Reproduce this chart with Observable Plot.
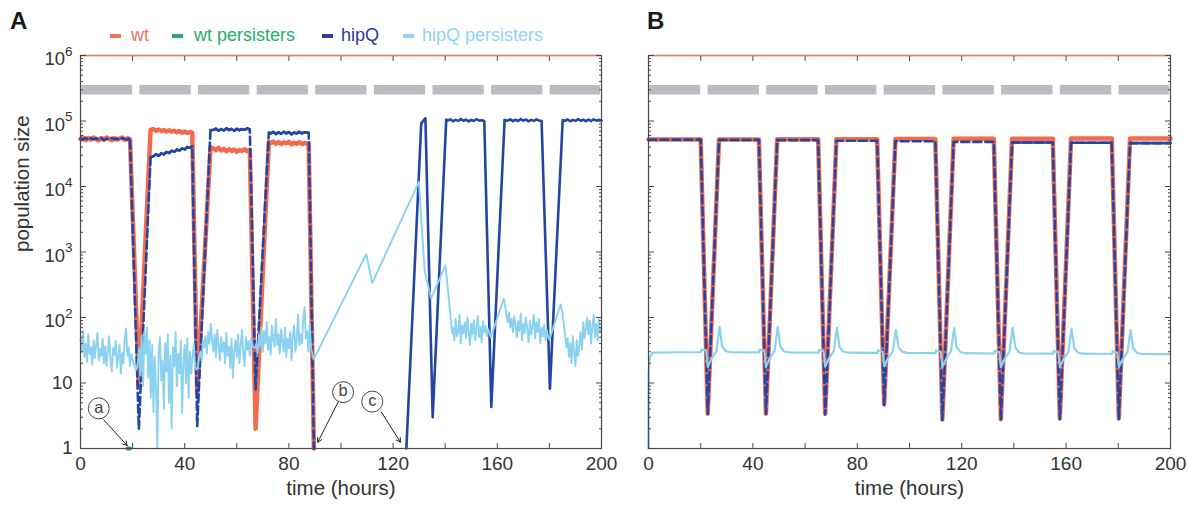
<!DOCTYPE html>
<html><head><meta charset="utf-8">
<script src="https://cdn.jsdelivr.net/npm/d3@7"></script>
<script src="https://cdn.jsdelivr.net/npm/@observablehq/plot@0.6"></script>
<style>
body{margin:0;background:#fff;font-family:"Liberation Sans",Arial,Helvetica,sans-serif;}
#wrap{position:relative;width:1190px;height:507px;overflow:hidden;background:#fff;}
.panel{position:absolute;top:0;}
.tag{position:absolute;font-weight:bold;font-size:24px;line-height:1;color:#1a1a1a;}
.legtxt{position:absolute;top:26px;font-size:18px;line-height:1;white-space:nowrap;}
.legsw{position:absolute;top:34px;width:11px;height:3.5px;}
</style></head><body><div id="wrap"></div>
<script>
// ---------- data ----------
// Panel A: wt and hipQ share one time grid up to extinction at ~90 h
const tA = [0,1,2,3,4,5,6,7,8,9,10,11,12,13,14,15,16,17,18,19,22.4,26.9,28,29,30,31,32,33,34,35,36,37,38,39,40,41,42,42.9,44.8,49.9,51,52,53,54,55,56,57,58,59,60,61,62,63,64,65,67.2,72.3,73,74,75,76,77,78,79,80,81,82,83,84,85,86,87,87.6,89.6];
const wtA = [53000,56000,51000,55000,52000,56000,53000,50500,55000,52000,56000,53500,51000,55000,52000,54000,56000,51500,54500,53000,
 9,73000,
 75000,71000,74000,70000,73000,69000,72000,68500,71000,67500,70000,66500,69000,65500,68000,
 66000,
 7,40000,
 38000,36000,39000,35500,37500,34500,37000,35000,36500,34000,36000,35000,37000,34500,36000,
 2,48000,
 46000,48500,45000,47500,44500,47000,45500,48000,44000,46500,45000,47500,44500,46000,45000,
 45000,1];
const hipA = [54000,52000,55500,51500,55000,52500,54500,52000,55000,51000,54000,52000,55500,52500,54000,51500,55000,53000,52000,55000,
 2,28000,
 29000,31000,29500,32000,31000,33500,32500,35000,34000,36500,35500,38000,37000,40000,39000,
 41000,
 2.2,73000,
 73000,76000,71500,75000,72000,77000,73000,75500,71000,76000,72500,75000,73500,77000,74000,
 8,66000,
 65000,68000,63500,67000,64000,68500,65000,67500,63000,66500,64500,68000,65000,67000,66000,
 66000,1];
// Panel A: hipQ regrowth after ~125 h
const tA2 = [125.1,130.8,132.4,135.2,140.4,141,142,143,144,145,146,147,148,149,150,151,152,153,154,155,157.7,162.8,164,165,166,167,168,169,170,171,172,173,174,175,176,177,180.2,185.1,186,187,188,189,190,191,192,193,194,195,196,197,198,199,200];
const hipA2 = [1,92000,110000,3,105000,
 102000,106000,99000,104000,100500,107000,101000,105000,98500,104000,100000,106500,101500,103000,100000,
 4.3,104000,
 101000,106000,99500,104500,100000,107000,101500,105000,99000,104000,100500,106000,102000,100000,
 8.2,103000,
 101000,105500,99000,104000,100500,107000,101000,104500,99500,105000,100000,106000,101500,104000,102000];
// Panel A: wt persisters (single brief appearance at the axis)
const tWtPersA = [18.0,19.0];
const wtPersA = [1,1];
// Panel A: hipQ persisters
const tPersA = [0,0.5,1,1.5,2,2.5,3,3.5,4,4.5,5,5.5,6,6.5,7,7.5,8,8.5,9,9.5,
 10,10.5,11,11.5,12,12.5,13,13.5,14,14.5,15,15.5,16,16.5,17,17.5,18,18.5,19,19.5,
 20,20.5,21,21.5,22,22.5,23,23.5,24,24.5,25,25.5,26,26.5,27,27.5,28,28.5,29,29.5,
 30,30.5,31,31.5,32,32.5,33,33.5,34,34.5,35,35.5,36,36.5,37,37.5,38,38.5,39,39.5,
 40,40.5,41,41.5,42,42.5,43,43.5,44,44.5,45,45.5,46,46.5,47,47.5,48,48.5,49,49.5,
 50,50.5,51,51.5,52,52.5,53,53.5,54,54.5,55,55.5,56,56.5,57,57.5,58,58.5,59,59.5,
 60,60.5,61,61.5,62,62.5,63,63.5,64,64.5,65,65.5,66,66.5,67,67.5,68,68.5,69,69.5,
 70,70.5,71,71.5,72,72.5,73,73.5,74,74.5,75,75.5,76,76.5,77,77.5,78,78.5,79,79.5,
 80,80.5,81,81.5,82,82.5,83,83.5,84,84.5,85,85.5,86,86.5,87,87.5,88,88.5,89,89.5,
 109.7,112,129.9,132.1,134.6,140.1,142.7,
 143,143.5,144,144.5,145,145.5,146,146.5,147,147.5,148,148.5,149,149.5,150,150.5,151,151.5,152,152.5,153,153.5,154,154.5,155,155.5,156,156.5,157,
 157.5,162.5,
 163,163.5,164,164.5,165,165.5,166,166.5,167,167.5,168,168.5,169,169.5,170,170.5,171,171.5,172,172.5,173,173.5,174,174.5,175,175.5,176,176.5,177,177.5,178,178.5,179,179.5,180,
 184.3,
 185,185.5,186,186.5,187,187.5,188,188.5,189,189.5,190,190.5,191,191.5,192,192.5,193,193.5,194,194.5,195,195.5,196,196.5,197,197.5,198,198.5,199,199.5,200];
const persA = [48,30,62,25,40,21,55,28,35,19,
 45,24,38,58,22,33,26,47,20,36,
 18,30,52,23,15,34,27,44,17,25,
 38,14,29,20,48,68,26,35,18,28,
 22,19,17,16,21,34,13,52,9,60,
 28,70,12,45,6,38,3.6,25,8,1,
 30,50,11,22,4,40,15,55,5,26,
 2,35,18,60,9,28,14,45,3.5,20,
 38,10,48,6,30,14,25,40,18,16,
 17,24,30,22,45,35,52,28,60,40,
 80,45,30,55,25,65,38,22,50,30,
 42,20,58,26,36,17,48,12,30,45,
 25,55,20,38,65,28,18,50,32,44,
 26,48,38,35,34,40,28,55,36,70,
 30,62,40,85,32,50,27,75,44,36,
 95,38,55,28,66,42,30,70,25,48,
 34,60,22,52,75,30,45,110,38,55,
 40,90,145,48,62,30,80,35,28,23,
 930,336,11800,527,194,630,57,
 70,45,95,52,60,110,40,75,58,85,48,100,62,38,80,55,90,45,68,105,50,72,42,88,60,75,52,66,58,
 50,194,
 150,110,85,120,70,95,60,105,75,50,88,62,115,45,80,58,100,66,42,90,55,72,110,48,85,60,95,40,70,52,78,45,65,50,46,
 158,
 120,80,55,35,48,25,40,20,52,30,18,45,26,38,60,32,85,48,70,100,55,90,40,75,110,50,80,45,95,60,70];
// Panel B: wt and hipQ
const tB = [0,20.0,22.7,27.0,42.3,45.0,49.3,65.0,67.7,72.0,87.6,90.3,94.6,109.9,112.6,116.9,132.3,135.0,139.3,154.9,157.6,161.9,177.5,180.2,184.5,200];
const wtB = [52000,52000,3.4,52000,52000,3.4,52500,52500,3.4,52500,52500,4.8,53000,53000,2.8,53500,53500,2.8,53500,53500,2.9,54000,54000,2.9,54000,54000];
const hipB = [52000,52000,3.4,51500,51500,3.4,51000,51000,3.3,50000,50000,4.6,49000,49000,2.7,48000,48000,2.7,47000,47000,2.8,46500,46500,2.8,46000,46000];
// Panel B: hipQ persisters
const tPersB = [0,0.1,0.5,1.5,10,20.1,20.3,22.1,22.7,24.2,26.0,27.2,28.2,29.7,31.7,
 42.4,42.6,44.4,45.0,46.5,48.3,49.5,50.5,52.0,54.0,
 65.1,65.3,67.1,67.7,69.2,71.0,72.2,73.2,74.7,76.7,
 87.7,87.9,89.7,90.3,91.8,93.6,94.8,95.8,97.3,99.3,
 110.0,110.2,112.0,112.6,114.1,115.9,117.1,118.1,119.6,121.6,
 132.4,132.6,134.4,135.0,136.5,138.3,139.5,140.5,142.0,144.0,
 155.0,155.2,157.0,157.6,159.1,160.9,162.1,163.1,164.6,166.6,
 177.6,177.8,179.6,180.2,181.7,183.5,184.7,185.7,187.2,189.2,
 200];
const persB = [1,14,25,29,29.5,29.5,32.5,31,17.5,24,31,72,36,30.5,29.5,
 29.3,32.3,30.8,17.5,24,31,72,36,30.3,29.3,
 29,32,30.5,17.8,24,31,70,35.5,30,29,
 28.8,31.7,30.2,18,24,30.5,64,35,29.8,28.8,
 28.5,31.4,30,17.5,23.5,30.5,69,35,29.5,28.5,
 28.2,31,29.6,17.5,23.5,30,70,35,29.2,28.2,
 28,30.8,29.4,17.5,23.5,30,67,34.5,29,28,
 27.7,30.5,29.1,17.5,23,29.5,65,34,28.7,27.7,
 27.5];
// Grey bars (growth periods) at the top of both panels
const barStart = [0.5,22.8,45.3,67.8,90.3,112.8,135.3,157.8,180.3];
const barEnd = [20.0,42.5,65.0,87.5,110.0,132.5,155.0,177.5,199.6];
const barLevel = 3e5;
// Annotations in panel A
const annLabel = ["a","b","c"];
const annT = [7.0,100.8,112.0];
const annV = [4.1,7.25,5.2];
const arrowFromT = [8.9,98.9,115.5];
const arrowFromV = [2.75,5.1,3.6];
const arrowToT = [17.9,91.1,122.8];
const arrowToV = [1.11,1.25,1.25];
// Axes
const xTickValues = [0,40,80,120,160,200];
const xMinorValues = [0,20,40,60,80,100,120,140,160,180,200];
const yTickValues = [1,10,100,1000,10000,100000,1000000];
const yTickLabels = ["1","10","10^2","10^3","10^4","10^5","10^6"];
const yMinorValues = [2,3,4,5,6,7,8,9,20,30,40,50,60,70,80,90,200,300,400,500,600,700,800,900,2000,3000,4000,5000,6000,7000,8000,9000,20000,30000,40000,50000,60000,70000,80000,90000,200000,300000,400000,500000,600000,700000,800000,900000];
// Legend
const legendNames = ["wt","wt persisters","hipQ","hipQ persisters"];
const legendColors = ["#f0735a","#27ad6a","#2b3c9c","#8fd4f2"];

// ---------- styles ----------
const RED="#f36a4d", BLUE="#2346a5", LIGHT="#8ad2f0", GREEN="#1fa463", GRAY="#b9bcc0", FRAME="#4f4646", TOPLINE="#e08672", TXT="#333";
const FONT='"Liberation Sans", Arial, Helvetica, sans-serif';

function rows(t, v){ return t.map((d,i)=>({t:d, v:v[i]})); }
function solidLinks(t, blue, red, thr){
  const out=[];
  for(let i=0;i<t.length-1;i++){
    const steep=Math.abs(Math.log10(blue[i+1])-Math.log10(blue[i]))>0.5;
    const d0=Math.abs(Math.log10(blue[i])-Math.log10(red[i]));
    const d1=Math.abs(Math.log10(blue[i+1])-Math.log10(red[i+1]));
    if(!steep && d0>thr && d1>thr) out.push({t1:t[i],v1:blue[i],t2:t[i+1],v2:blue[i+1]});
  }
  return out;
}
const labelMap = new Map(yTickValues.map((d,i)=>[d, yTickLabels[i]]));
const bars = barStart.map((s,i)=>({s, e:barEnd[i], y:barLevel}));

function axes(showY){
  const m = [
    Plot.frame({stroke: FRAME, strokeWidth: 1.2}),
    Plot.ruleY([1e6], {stroke: TOPLINE, strokeWidth: 1.5}),
    Plot.axisX({anchor:"bottom", ticks: xMinorValues, tickSize:-5, tickFormat:()=>"", label:null, stroke:FRAME}),
    Plot.axisX({anchor:"top", ticks: xMinorValues, tickSize:-5, tickFormat:()=>"", label:null, stroke:FRAME}),
    Plot.axisY({anchor:"left", ticks: yTickValues, tickSize:-6, tickFormat:()=>"", label:null, stroke:FRAME}),
    Plot.axisY({anchor:"right", ticks: yTickValues, tickSize:-6, tickFormat:()=>"", label:null, stroke:FRAME}),
    Plot.axisY({anchor:"left", ticks: yMinorValues, tickSize:-3, tickFormat:()=>"", label:null, stroke:FRAME}),
    Plot.axisY({anchor:"right", ticks: yMinorValues, tickSize:-3, tickFormat:()=>"", label:null, stroke:FRAME}),
    Plot.axisX({anchor:"bottom", ticks: xTickValues, tickSize:0, tickPadding:8, fontSize:19, label:null, fill:TXT}),
    Plot.text(["time (hours)"], {text:d=>d, frameAnchor:"bottom", dy:46, fontSize:20.5, fill:TXT})
  ];
  if(showY){
    m.push(Plot.axisY({anchor:"left", ticks: yTickValues, tickSize:0, tickPadding:8, tickFormat:d=>labelMap.get(d), fontSize:18.5, label:null, fill:TXT}));
    m.push(Plot.text(["population size"], {text:d=>d, frameAnchor:"left", rotate:-90, dx:-58, fontSize:20.5, fill:TXT}));
  }
  return m;
}

function makePanel(width, marginLeft, marginRight, marks){
  return Plot.plot({
    width, height: 507, marginLeft, marginRight, marginTop: 55, marginBottom: 59,
    x: {domain: [0,200], label: null},
    y: {type: "log", domain: [1,1e6], label: null},
    style: {fontFamily: FONT, background: "transparent", overflow: "visible", color: TXT},
    marks
  });
}

const barMark = Plot.ruleY(bars, {y:"y", x1:"s", x2:"e", stroke: GRAY, strokeWidth: 9.5});

// Panel A
const annRows = annLabel.map((l,i)=>({l, t:annT[i], v:annV[i], t1:arrowFromT[i], v1:arrowFromV[i], t2:arrowToT[i], v2:arrowToV[i]}));
const svgA = makePanel(620, 80, 19, [
  barMark,
  Plot.line(rows(tA, wtA), {x:"t", y:"v", stroke: RED, strokeWidth: 4.5, strokeLinejoin:"round"}),
  Plot.line(rows(tA, hipA), {x:"t", y:"v", stroke: BLUE, strokeWidth: 2.6, strokeDasharray:"8,4"}),
  Plot.link(solidLinks(tA, hipA, wtA, 0.1), {x1:"t1", y1:"v1", x2:"t2", y2:"v2", stroke: BLUE, strokeWidth: 2.6, strokeLinecap:"round"}),
  Plot.line(rows(tA2, hipA2), {x:"t", y:"v", stroke: BLUE, strokeWidth: 2.6, strokeLinejoin:"round"}),
  Plot.line(rows(tPersA, persA), {x:"t", y:"v", stroke: LIGHT, strokeWidth: 1.9, strokeLinejoin:"round"}),
  Plot.line(rows(tWtPersA, wtPersA), {x:"t", y:"v", stroke: GREEN, strokeWidth: 4}),
  Plot.arrow(annRows, {x1:"t1", y1:"v1", x2:"t2", y2:"v2", stroke:"#222", strokeWidth:1, headLength:7}),
  Plot.dot(annRows, {x:"t", y:"v", r:10.5, stroke:"#444", fill:"white", strokeWidth:1}),
  Plot.text(annRows, {x:"t", y:"v", text:"l", fontSize:16.5, fill:"#444", dy:-1}),
  ...axes(true)
]);

// Panel B
const svgB = makePanel(600, 58, 20, [
  barMark,
  Plot.line(rows(tB, wtB), {x:"t", y:"v", stroke: RED, strokeWidth: 4.5, strokeLinejoin:"round"}),
  Plot.line(rows(tB, hipB), {x:"t", y:"v", stroke: BLUE, strokeWidth: 2.6, strokeDasharray:"8,4"}),
  Plot.link(solidLinks(tB, hipB, wtB, 0.05), {x1:"t1", y1:"v1", x2:"t2", y2:"v2", stroke: BLUE, strokeWidth: 2.6, strokeLinecap:"round"}),
  Plot.line(rows(tPersB, persB), {x:"t", y:"v", stroke: LIGHT, strokeWidth: 2.2, strokeLinejoin:"round"}),
  ...axes(false)
]);

// superscript exponents on the y tick labels
d3.select(svgA).selectAll('g[aria-label="y-axis tick label"] text').each(function(){
  const s = this.textContent; const m = s.match(/^10\^(\d)$/);
  if(m){
    const el = d3.select(this); el.text(null);
    el.append("tspan").attr("dy","0.2em").text("10");
    el.append("tspan").attr("dy","-0.7em").attr("font-size","13.5").text(m[1]);
  }
});

const wrap = document.getElementById("wrap");
svgA.classList.add("panel"); svgA.style.left = "0px";
svgB.classList.add("panel"); svgB.style.left = "590px";
wrap.appendChild(svgA); wrap.appendChild(svgB);

function addDiv(cls, left, top, text, color){
  const d = document.createElement("div"); d.className = cls;
  d.style.left = left+"px"; if(top!=null) d.style.top = top+"px";
  if(text!=null) d.textContent = text; if(color) { d.style.color = color; }
  wrap.appendChild(d); return d;
}
addDiv("tag", 10, 9, "A");
addDiv("tag", 647, 9, "B");
const swX = [110,172,322,403], txX = [131,194,341,422];
legendNames.forEach((n,i)=>{
  const sw = addDiv("legsw", swX[i], null, null, null); sw.style.background = legendColors[i];
  addDiv("legtxt", txX[i], null, n, legendColors[i]);
});
</script></body></html>
